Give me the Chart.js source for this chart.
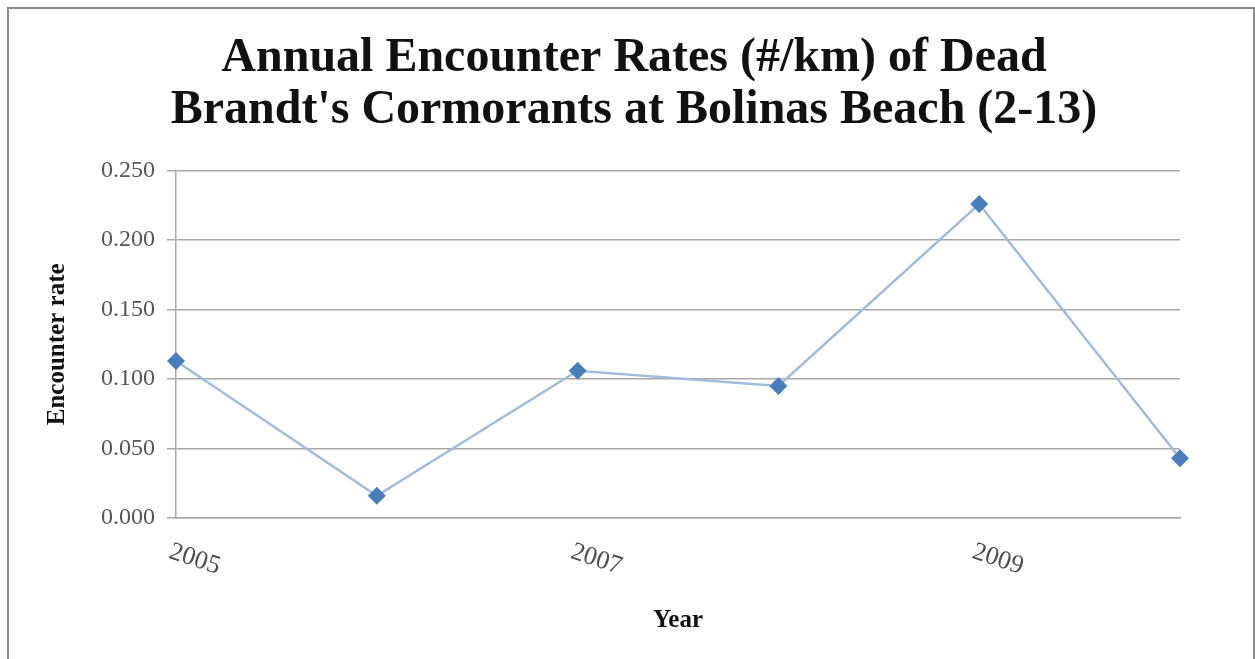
<!DOCTYPE html>
<html lang="en">
<head>
    <meta charset="UTF-8">
    <title>Annual Encounter Rates</title>
    <script src="https://cdn.jsdelivr.net/npm/chart.js@4.4.1/dist/chart.umd.min.js"></script>
    <style>
        html, body { margin: 0; padding: 0; background: #fff; overflow: hidden; }
        #frame {
            position: absolute; left: 7px; top: 7px; width: 1248px; height: 700px;
            border: 2px solid #8c8c8c; box-sizing: border-box;
        }
        canvas { position: absolute; left: 0; top: 0; }
    </style>
</head>
<body>
    <div id="frame"></div>
    <canvas id="rateChart" width="1255" height="659"></canvas>

    <script>
        // values
        const years = ['2005', '2006', '2007', '2008', '2009', '2010'];
        const encounterRates = [0.113, 0.016, 0.106, 0.095, 0.226, 0.043];
        const yTicks = [0, 0.05, 0.10, 0.15, 0.20, 0.25];

        Chart.defaults.font.family = "'Liberation Serif', 'Times New Roman', serif";

        // x labels in the original slope down to the right, so draw them by hand
        // at the positions the x scale gives
        const slantedLabels = {
            id: 'slantedLabels',
            afterDraw(chart) {
                const xs = chart.scales.x;
                const ctx = chart.ctx;
                ctx.save();
                ctx.font = "26px 'Liberation Serif', serif";
                ctx.fillStyle = '#4d4d4d';
                ctx.textAlign = 'left';
                ctx.textBaseline = 'top';
                xs.ticks.forEach((t, i) => {
                    if (i % 2 !== 0) return;
                    const x = xs.getPixelForTick(i);
                    ctx.save();
                    ctx.translate(x - 2, chart.chartArea.bottom + 21);
                    ctx.rotate(18 * Math.PI / 180);
                    ctx.fillText(xs.getLabelForValue(t.value), 0, 0);
                    ctx.restore();
                });
                ctx.restore();
            }
        };

        const ctx = document.getElementById('rateChart').getContext('2d');
        new Chart(ctx, {
            type: 'line',
            data: {
                labels: years,
                datasets: [{
                    data: encounterRates,
                    borderColor: '#a3bbdd',
                    borderWidth: 2.5,
                    tension: 0,
                    pointStyle: 'rectRot',
                    pointRadius: 9,
                    pointBackgroundColor: '#4a7ebb',
                    pointBorderColor: '#4a7ebb',
                    pointBorderWidth: 0
                }]
            },
            options: {
                responsive: false,
                animation: false,
                // left padding wider so the title centres like the original
                layout: { padding: { left: 88, right: 75, top: 0, bottom: 0 } },
                plugins: {
                    legend: { display: false },
                    tooltip: { enabled: false },
                    title: {
                        display: true,
                        text: ['Annual Encounter Rates (#/km) of Dead', "Brandt's Cormorants at Bolinas Beach (2-13)"],
                        color: '#111',
                        font: { size: 48, weight: 'bold', lineHeight: 1.09 },
                        padding: { top: 32, bottom: 34 }
                    }
                },
                scales: {
                    x: {
                        offset: false,
                        grid: { display: false },
                        border: { display: true, color: '#a8a8a8', width: 1.5 },
                        ticks: { display: false },
                        title: {
                            display: true,
                            text: 'Year',
                            color: '#111',
                            font: { size: 25, weight: 'bold' },
                            padding: { top: 23, bottom: 23 }
                        },
                        afterFit(scale) { scale.height = 141; }
                    },
                    y: {
                        min: 0,
                        max: 0.25,
                        afterBuildTicks(scale) {
                            scale.ticks = yTicks.map(v => ({ value: v }));
                        },
                        grid: { color: '#a8a8a8', lineWidth: 1.5, tickLength: 9 },
                        border: { display: true, color: '#a8a8a8', width: 1.5 },
                        ticks: {
                            color: '#555',
                            padding: 12,
                            font: { size: 24 },
                            callback: v => v.toFixed(3)
                        },
                        title: {
                            display: true,
                            text: 'Encounter rate',
                            color: '#111',
                            font: { size: 25, weight: 'bold' },
                            padding: { top: -45, bottom: 0 }
                        },
                        afterFit(scale) { scale.width = 88; }
                    }
                }
            },
            plugins: [slantedLabels]
        });
    </script>
</body>
</html>
